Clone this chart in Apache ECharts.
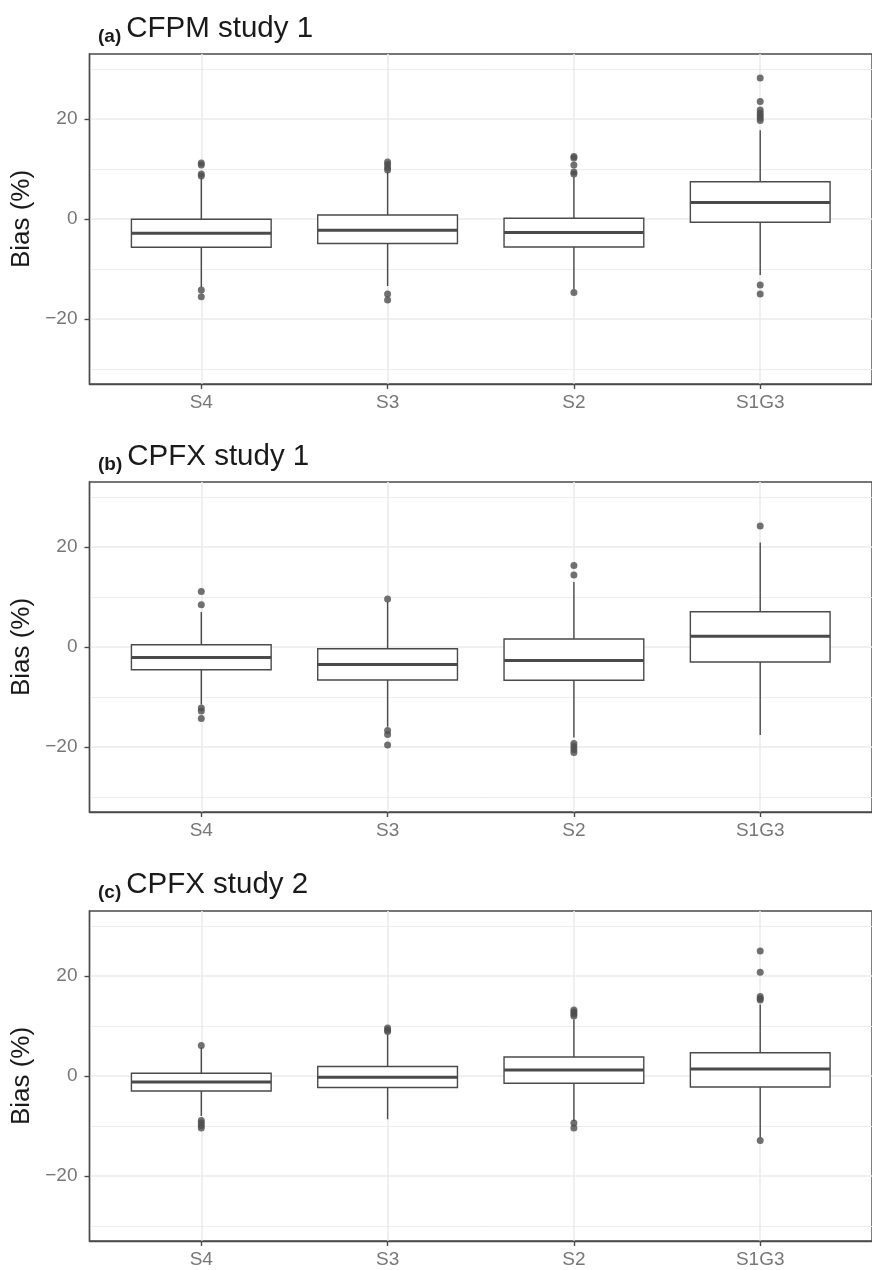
<!DOCTYPE html>
<html><head><meta charset="utf-8">
<script src="https://cdn.jsdelivr.net/npm/echarts@6/dist/echarts.min.js"></script>
<style>html,body{margin:0;padding:0;background:#fff;overflow:hidden}#c{width:872px;height:1270px}</style>
</head><body><div id="c"></div><script>
const categories = ['S4', 'S3', 'S2', 'S1G3'];
const panelTags = ['(a)', '(b)', '(c)'];
const panelNames = ['CFPM study 1', 'CPFX study 1', 'CPFX study 2'];
const yTicks = [-20, 0, 20];
const yMinorTicks = [-30, -10, 10, 30];
const yLimits = [-33, 33];

// [lower whisker, Q1, median, Q3, upper whisker] for S4, S3, S2, S1G3
const boxesA = [[-13.6, -5.65, -2.85, -0.05, 8.2], [-13.4, -4.9, -2.25, 0.8, 9.5], [-14.0, -5.6, -2.7, 0.15, 8.4], [-11.2, -0.65, 3.3, 7.45, 17.75]];
const boxesB = [[-11.5, -4.55, -2.1, 0.45, 7.0], [-15.95, -6.6, -3.5, -0.35, 9.05], [-18.1, -6.65, -2.7, 1.6, 13.0], [-17.6, -3.0, 2.15, 7.05, 20.9]];
const boxesC = [[-8.0, -3.0, -1.2, 0.55, 5.7], [-8.65, -2.3, -0.25, 1.9, 8.3], [-9.0, -1.45, 1.2, 3.8, 11.3], [-12.3, -2.2, 1.4, 4.65, 14.3]];

// outliers per category
const outliersA = [[11.2, 10.8, 9.0, 8.6, -14.2, -15.55], [11.4, 10.9, 10.3, 9.8, -15.0, -16.2], [12.5, 12.2, 10.8, 9.4, 9.0, -14.7], [28.2, 23.5, 21.8, 21.2, 20.7, 20.2, 19.7, -13.2, -15.0]];
const outliersB = [[11.1, 8.45, -12.2, -12.8, -14.3], [9.6, -16.7, -17.5, -19.6], [16.3, 14.4, -19.3, -19.9, -20.5, -21.1], [24.2]];
const outliersC = [[6.1, -8.9, -9.4, -9.9, -10.4], [9.6, 9.2, 8.9], [13.2, 12.8, 12.4, 12.0, -9.4, -10.4], [25.0, 20.75, 15.9, 15.5, 15.2, -12.9]];

const panels = [
  { boxes: boxesA, outliers: outliersA },
  { boxes: boxesB, outliers: outliersB },
  { boxes: boxesC, outliers: outliersC }
];

const FONT = '"Liberation Sans", Arial, Helvetica, sans-serif';
const LINE = '#4a4a4a';
const GRIDC = '#ebebeb';
const gridTops = [54, 482, 911];
const gridH = 330;
const titleTops = [7, 435, 863];
const xPositions = categories.map((c, i) => i);

function renderBox(params, api) {
  const x = api.value(0);
  const lo = api.coord([x, api.value(1)]);
  const q1 = api.coord([x, api.value(2)]);
  const md = api.coord([x, api.value(3)]);
  const q3 = api.coord([x, api.value(4)]);
  const hi = api.coord([x, api.value(5)]);
  const half = api.size([0.75, 0])[0] / 2;
  const st = { stroke: LINE, lineWidth: 1.4, fill: null };
  return {
    type: 'group',
    children: [
      { type: 'line', shape: { x1: lo[0], y1: lo[1], x2: q1[0], y2: q1[1] }, style: st },
      { type: 'line', shape: { x1: hi[0], y1: hi[1], x2: q3[0], y2: q3[1] }, style: st },
      { type: 'rect', shape: { x: q3[0] - half, y: q3[1], width: 2 * half, height: q1[1] - q3[1] }, style: { stroke: LINE, lineWidth: 1.4, fill: '#ffffff' } },
      { type: 'line', shape: { x1: md[0] - half, y1: md[1], x2: md[0] + half, y2: md[1] }, style: { stroke: LINE, lineWidth: 2.8 } }
    ]
  };
}

const option = {
  animation: false,
  backgroundColor: '#ffffff',
  title: [], grid: [], xAxis: [], yAxis: [], series: []
};

panels.forEach((p, i) => {
  option.title.push({
    left: 93, top: titleTops[i],
    text: '{t|' + panelTags[i] + '} {n|' + panelNames[i] + '}',
    textStyle: {
      fontWeight: 'normal',
      rich: {
        t: { fontFamily: FONT, fontSize: 19, fontWeight: 'bold', color: '#1a1a1a', lineHeight: 34, verticalAlign: 'bottom' },
        n: { fontFamily: FONT, fontSize: 29.5, fontWeight: 'normal', color: '#1a1a1a', lineHeight: 34 }
      }
    }
  });
  option.grid.push({
    left: 89.5, right: -7, top: gridTops[i], height: gridH,
    show: true, borderColor: LINE, borderWidth: 1.4, backgroundColor: 'transparent'
  });
  option.xAxis.push({
    type: 'value', gridIndex: i, min: -0.6, max: 3.6,
    axisLine: { show: true, onZero: false, lineStyle: { color: LINE, width: 1.4 } },
    axisTick: { show: true, length: 5, customValues: xPositions, lineStyle: { color: LINE, width: 1.4 } },
    axisLabel: { customValues: xPositions, margin: 9, fontFamily: FONT, fontSize: 19, color: '#777777',
      formatter: v => categories[Math.round(v)] },
    splitLine: { show: true, lineStyle: { color: GRIDC, width: 1.6 } }
  });
  option.yAxis.push({
    type: 'value', gridIndex: i, min: yLimits[0], max: yLimits[1],
    name: 'Bias (%)', nameLocation: 'middle', nameGap: 47, nameRotate: 90,
    nameTextStyle: { fontFamily: FONT, fontSize: 26, color: '#1a1a1a' },
    axisLine: { show: true, onZero: false, lineStyle: { color: LINE, width: 1.4 } },
    axisTick: { show: true, length: 5, customValues: yTicks, lineStyle: { color: LINE, width: 1.4 } },
    axisLabel: { customValues: yTicks, margin: 12, fontFamily: FONT, fontSize: 19, color: '#777777',
      formatter: v => (v < 0 ? '\u2212' + Math.abs(v) : String(v)) },
    splitLine: { show: true, lineStyle: { color: GRIDC, width: 1.6 } }
  });
  option.yAxis.push({
    type: 'value', gridIndex: i, min: yLimits[0], max: yLimits[1],
    axisLine: { show: false }, axisLabel: { show: false },
    axisTick: { show: false, customValues: yMinorTicks },
    splitLine: { show: true, lineStyle: { color: GRIDC, width: 0.9 } }
  });
  const boxData = p.boxes.map((b, k) => [k].concat(b));
  const outData = [];
  p.outliers.forEach((arr, k) => arr.forEach(v => outData.push([k, v])));
  option.series.push({
    type: 'custom', xAxisIndex: i, yAxisIndex: 2 * i,
    renderItem: renderBox, data: boxData,
    encode: { x: 0, y: [1, 2, 3, 4, 5] }, z: 2
  });
  option.series.push({
    type: 'scatter', xAxisIndex: i, yAxisIndex: 2 * i,
    data: outData, symbolSize: 7, itemStyle: { color: '#4d4d4d' }, z: 3
  });
});

const chart = echarts.init(document.getElementById('c'), null, { renderer: 'canvas' });
chart.setOption(option);
</script></body></html>
